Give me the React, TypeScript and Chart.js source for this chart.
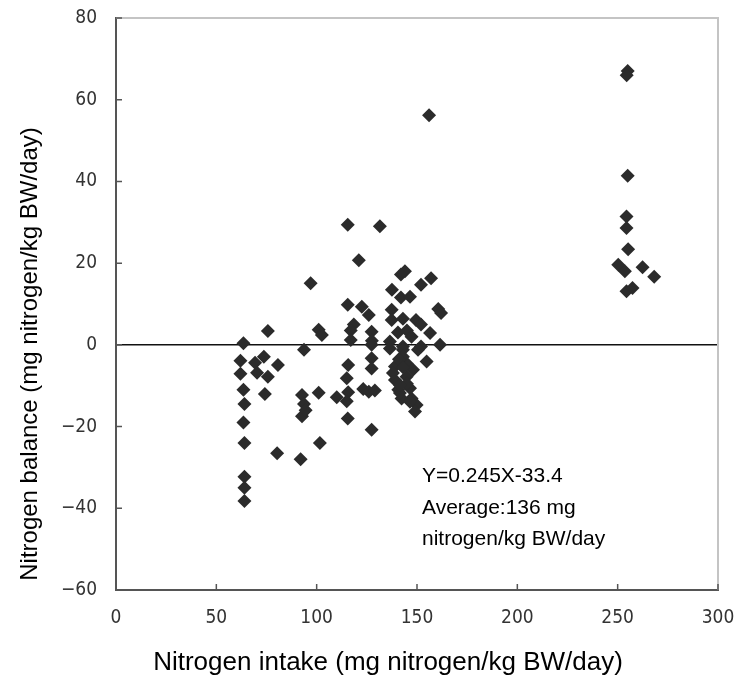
import { useEffect, useRef } from 'react';
import { Chart, registerables } from 'chart.js';

Chart.register(...registerables);

// Nitrogen intake (x) and nitrogen balance (y), mg nitrogen/kg BW/day
const intake: number[] = [
  // ~63 column
  63.5, 62, 62, 63.5, 64, 63.5, 64, 64, 64, 64,
  // 69-81
  75.7, 69.3, 73.7, 70.3, 75.7, 80.7, 74.2, 80.3,
  // 92-103
  97, 93.7, 101, 102.6, 101, 92.7, 93.7, 92.7, 94.5, 101.6, 92,
  // 110-131
  115.5, 131.5, 121, 115.5, 122.5, 126, 118.5, 117, 127.4, 117, 127.5, 127.4, 127.4, 127.4,
  115.7, 115, 115.7, 110, 115, 115.5, 123.2, 126, 129, 127.4,
  // 136-162 positive
  144, 142, 137.5, 142, 146.5, 152, 157, 160.6, 162, 137.4, 137.4, 143, 149.5, 152, 156.5,
  140.5, 145, 147.3, 161.5, 136.5, 152, 143,
  156,
  // 136-155 negative
  136.5, 143, 150.5, 139, 144.8, 139, 144.8, 140.7, 146.5, 142.3, 147.3, 149.8, 149, 138,
  143, 148, 154.8, 141.5, 146.5, 141, 145, 141.5, 143,
  // ~255 group
  255, 254.5, 255, 254.4, 254.4, 255.2, 250.3, 253.6, 262.4, 268.2, 254.4, 257.4,
];

const balance: number[] = [
  0.4, -3.9, -7.1, -11, -14.5, -19, -24, -32.3, -35, -38.2,
  3.4, -4.4, -2.9, -6.8, -7.8, -4.9, -12, -26.5,
  15.1, -1.2, 3.7, 2.4, -11.7, -12.3, -14.5, -17.5, -16, -24, -28,
  29.4, 29, 20.7, 9.8, 9.3, 7.3, 5, 3.5, 3.2, 1.2, 1, 0, -3.3, -5.8,
  -4.9, -8.2, -11.6, -12.8, -13.8, -18, -10.8, -11.5, -11.2, -20.8,
  18, 17.2, 13.5, 11.6, 11.8, 14.7, 16.3, 8.8, 7.8, 8.6, 6.1, 6.4, 6.1, 5, 2.9,
  3, 3.5, 2, 0, 0.8, -0.4, -0.4,
  56.2,
  -0.9, -1.2, -1.2, -5.3, -4.5, -8.6, -7.8, -11, -10.6, -13.1, -13.1, -14.7, -16.3, -6.9,
  -2.9, -6.1, -4.1, -11.8, -13.9, -3.5, -9.5, -9.8, -5.5,
  67, 66, 41.4, 31.4, 28.6, 23.4, 19.6, 18, 19, 16.7, 13.1, 13.9,
];

const xTitle = 'Nitrogen intake (mg nitrogen/kg BW/day)';
const yTitle = 'Nitrogen balance (mg nitrogen/kg BW/day)';
const noteLines: string[] = ['Y=0.245X-33.4', 'Average:136 mg', 'nitrogen/kg BW/day'];

const TICK_FONT = "'Liberation Sans Narrow', 'DejaVu Sans Condensed', 'Roboto', sans-serif";
const TEXT_FONT = "'Liberation Sans', Arial, sans-serif";

const decorPlugin = {
  id: 'decor',
  afterDraw(chart: any) {
    const { ctx, chartArea: a, scales } = chart;
    const xs = scales.x;
    const ys = scales.y;
    ctx.save();
    // top / right light frame
    ctx.strokeStyle = '#c4c4c4';
    ctx.lineWidth = 2;
    ctx.beginPath();
    ctx.moveTo(a.left, a.top);
    ctx.lineTo(a.right, a.top);
    ctx.lineTo(a.right, a.bottom);
    ctx.stroke();
    // inside tick marks
    ctx.strokeStyle = '#555';
    ctx.lineWidth = 1.5;
    ctx.beginPath();
    ys.ticks.forEach((t: any) => {
      const py = ys.getPixelForValue(t.value);
      ctx.moveTo(a.left, py);
      ctx.lineTo(a.left + 6, py);
    });
    xs.ticks.forEach((t: any) => {
      const px = xs.getPixelForValue(t.value);
      ctx.moveTo(px, a.bottom);
      ctx.lineTo(px, a.bottom - 6);
    });
    ctx.stroke();
    // axis titles
    ctx.fillStyle = '#000';
    ctx.textAlign = 'center';
    ctx.textBaseline = 'middle';
    ctx.font = `26px ${TEXT_FONT}`;
    ctx.fillText(xTitle, 388, 663);
    ctx.font = `24px ${TEXT_FONT}`;
    ctx.save();
    ctx.translate(30, 354);
    ctx.rotate(-Math.PI / 2);
    ctx.fillText(yTitle, 0, 0);
    ctx.restore();
    // note
    ctx.font = `21px ${TEXT_FONT}`;
    ctx.textAlign = 'left';
    ctx.textBaseline = 'alphabetic';
    const baselines = [482, 514, 545];
    noteLines.forEach((s, i) => ctx.fillText(s, 422, baselines[i]));
    ctx.restore();
  },
};

export default function App() {
  const ref = useRef<HTMLCanvasElement | null>(null);
  useEffect(() => {
    if (!ref.current) return;
    const data = intake.map((x, i) => ({ x, y: balance[i] }));
    const chart = new Chart(ref.current, {
      type: 'scatter',
      data: {
        datasets: [
          {
            data,
            pointStyle: 'rectRot',
            pointRadius: 7,
            pointBackgroundColor: '#2b2b2b',
            pointBorderColor: '#2b2b2b',
            pointBorderWidth: 0,
          },
        ],
      },
      options: {
        animation: false,
        responsive: false,
        layout: { padding: { left: 0, right: 16, top: 18, bottom: 0 } },
        plugins: { legend: { display: false }, tooltip: { enabled: false } },
        scales: {
          x: {
            type: 'linear',
            min: 0,
            max: 300,
            ticks: {
              stepSize: 50,
              padding: 17,
              color: '#333',
              font: { family: TICK_FONT, size: 19 },
              maxRotation: 0,
            },
            grid: { display: false, drawTicks: false },
            border: { display: true, color: '#555', width: 2 },
            afterFit: (s: any) => {
              s.height = 94;
              s.paddingLeft = 0;
              s.paddingRight = 0;
            },
          },
          y: {
            type: 'linear',
            min: -60,
            max: 80,
            ticks: {
              stepSize: 20,
              padding: 19,
              color: '#333',
              font: { family: TICK_FONT, size: 19 },
              callback: (v: any) => String(v).replace('-', '\u2212'),
            },
            grid: {
              display: true,
              drawTicks: false,
              lineWidth: 1.5,
              color: (c: any) => (c.tick && c.tick.value === 0 ? '#111' : 'rgba(0,0,0,0)'),
            },
            border: { display: true, color: '#555', width: 2 },
            afterFit: (s: any) => {
              s.width = 116;
              s.paddingTop = 0;
              s.paddingBottom = 0;
            },
          },
        },
      },
      plugins: [decorPlugin],
    });
    return () => chart.destroy();
  }, []);
  return (
    <div style={{ position: 'fixed', left: 0, top: 0, width: 734, height: 684, background: '#fff' }}>
      <canvas ref={ref} width={734} height={684} style={{ display: 'block' }} />
    </div>
  );
}
